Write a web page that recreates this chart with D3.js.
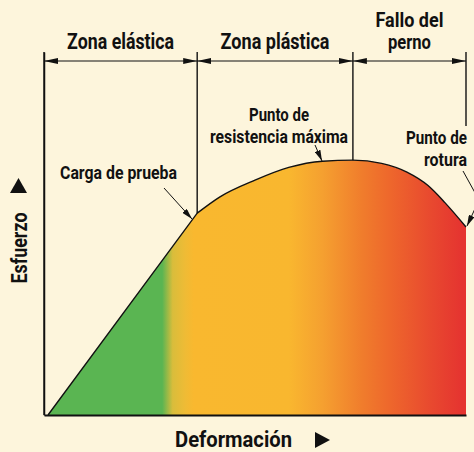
<!DOCTYPE html>
<html><head><meta charset="utf-8">
<script src="https://cdn.jsdelivr.net/npm/d3@7"></script>
<style>
html,body{margin:0;padding:0;background:#fdf5dc;}
svg{display:block;}
text{font-family:"Roboto","Liberation Sans",sans-serif;fill:#111;}
</style></head>
<body>
<svg id="c" width="474" height="452"></svg>
<script>
// strain (0-100) vs stress (0-100)
const elasticCurve = [[0.95,0],[36.3,55.6]];
const plasticCurve = [[36.3,55.6],[41.7,60.1],[50,64.7],[58,68.2],[66,69.9],[73.2,70.2],[80,69.3],[86,66.9],[91,63.2],[95,58.5],[100,51.8]];
const zoneBounds = [0, 36.3, 73.2, 100];
const zoneLabels = [["Zona elástica"],["Zona plástica"],["Fallo del","perno"]];
const gradStops = [[0,"#5ab552"],[28.0,"#5ab552"],[30.5,"#d9bd3b"],[33.5,"#efbb35"],[35.5,"#f9b82f"],[58,"#f9b72f"],[66,"#f5a030"],[75.5,"#f07c2c"],[82,"#ee672c"],[92,"#e8482f"],[99,"#e53430"]];

const svg = d3.select("#c");
const x = d3.scaleLinear().domain([0,100]).range([44,466]);
const y = d3.scaleLinear().domain([0,100]).range([415,52]);

const defs = svg.append("defs");
const g = defs.append("linearGradient").attr("id","grad").attr("gradientUnits","userSpaceOnUse")
  .attr("x1",x(0)).attr("x2",x(100)).attr("y1",0).attr("y2",0);
gradStops.forEach(s=>g.append("stop").attr("offset",s[0]+"%").attr("stop-color",s[1]));

function mk(id,w,h){
  defs.append("marker").attr("id",id).attr("viewBox",`0 0 ${w} ${h}`).attr("refX",w).attr("refY",h/2)
    .attr("markerWidth",w).attr("markerHeight",h).attr("markerUnits","userSpaceOnUse")
    .attr("orient","auto-start-reverse")
    .append("path").attr("d",`M0,0L${w},${h/2}L0,${h}Z`).attr("fill","#111");
}
mk("dim",14,6);
mk("ann",11,6);

// condensed text: horizontal scale so the text spans the target width
function txt(s, tx, ty, size, weight, anchor, width, rot){
  const t = svg.append("text").attr("font-size",size).attr("font-weight",weight)
    .attr("text-anchor",anchor).attr("x",0).attr("y",0).text(s);
  const nat = t.node().getComputedTextLength() || width;
  const sx = width / nat;
  t.attr("transform",`translate(${tx},${ty})${rot?` rotate(${rot})`:""} scale(${sx},1)`);
  return t;
}

const lineGen = d3.line().x(d=>x(d[0])).y(d=>y(d[1]));
const curveGen = d3.line().x(d=>x(d[0])).y(d=>y(d[1])).curve(d3.curveMonotoneX);
const fullPath = lineGen(elasticCurve) + curveGen(plasticCurve).replace(/^M/,"L");
const last = plasticCurve[plasticCurve.length-1];
svg.append("path").attr("d", fullPath + `L${x(last[0])},${y(0)}L${x(elasticCurve[0][0])},${y(0)}Z`)
  .attr("fill","url(#grad)");
svg.append("path").attr("d", fullPath).attr("fill","none").attr("stroke","#111").attr("stroke-width",1.4);

svg.append("g").attr("transform",`translate(0,${y(0)})`)
  .call(d3.axisBottom(x).ticks(0).tickSizeOuter(0))
  .call(a=>a.select(".domain").attr("stroke","#111").attr("stroke-width",2));
svg.append("g").attr("transform",`translate(${x(0)},0)`)
  .call(d3.axisLeft(y).ticks(0).tickSizeOuter(0))
  .call(a=>a.select(".domain").attr("stroke","#111").attr("stroke-width",1.5));

const allPts = elasticCurve.concat(plasticCurve);
function curveY(v){
  let best = allPts[0];
  allPts.forEach(p=>{ if(Math.abs(p[0]-v)<Math.abs(best[0]-v)) best=p; });
  return y(best[1]);
}
const divBottoms = [y(0), curveY(zoneBounds[1]), curveY(zoneBounds[2]), 126];
zoneBounds.forEach((b,i)=>{
  svg.append("line").attr("x1",x(b)).attr("x2",x(b)).attr("y1",y(100)).attr("y2",divBottoms[i])
    .attr("stroke","#111").attr("stroke-width",1.4);
});
const dimY = 61;
const zoneWidths = [[107],[109],[68,43]];
for(let i=0;i<zoneBounds.length-1;i++){
  svg.append("line").attr("x1",x(zoneBounds[i])).attr("x2",x(zoneBounds[i+1])).attr("y1",dimY).attr("y2",dimY)
    .attr("stroke","#111").attr("stroke-width",1.2)
    .attr("marker-start","url(#dim)").attr("marker-end","url(#dim)");
  const cx = (x(zoneBounds[i])+x(zoneBounds[i+1]))/2;
  const lines = zoneLabels[i];
  lines.forEach((t,j)=>{
    txt(t, cx, 49-(lines.length-1-j)*22, lines.length>1?19.5:21.5, 700, "middle", zoneWidths[i][j]);
  });
}

function ann(lines, widths, tx, ty, anchor, pts){
  lines.forEach((t,j)=>txt(t, tx, ty+j*22, 18.3, 700, anchor, widths[j]));
  svg.append("path").attr("d",d3.line()(pts)).attr("fill","none").attr("stroke","#111").attr("stroke-width",1)
    .attr("marker-end","url(#ann)");
}
ann(["Carga de prueba"],[117],118.5,179,"middle",[[164,188],[192,219]]);
ann(["Punto de","resistencia máxima"],[60,138],279,121,"middle",[[315,145],[322,161]]);
ann(["Punto de","rotura"],[61,43],467,144,"end",[[463,171],[479,200],[467,226]]);

txt("Esfuerzo", 27, 248, 22, 700, "middle", 71, -90);
svg.append("path").attr("d","M10,193L18.5,178L27,193Z").attr("fill","#111");
txt("Deformación", 233.5, 447, 22, 700, "middle", 117);
svg.append("path").attr("d","M315,432L330,440L315,448Z").attr("fill","#111");
</script>
</body></html>
